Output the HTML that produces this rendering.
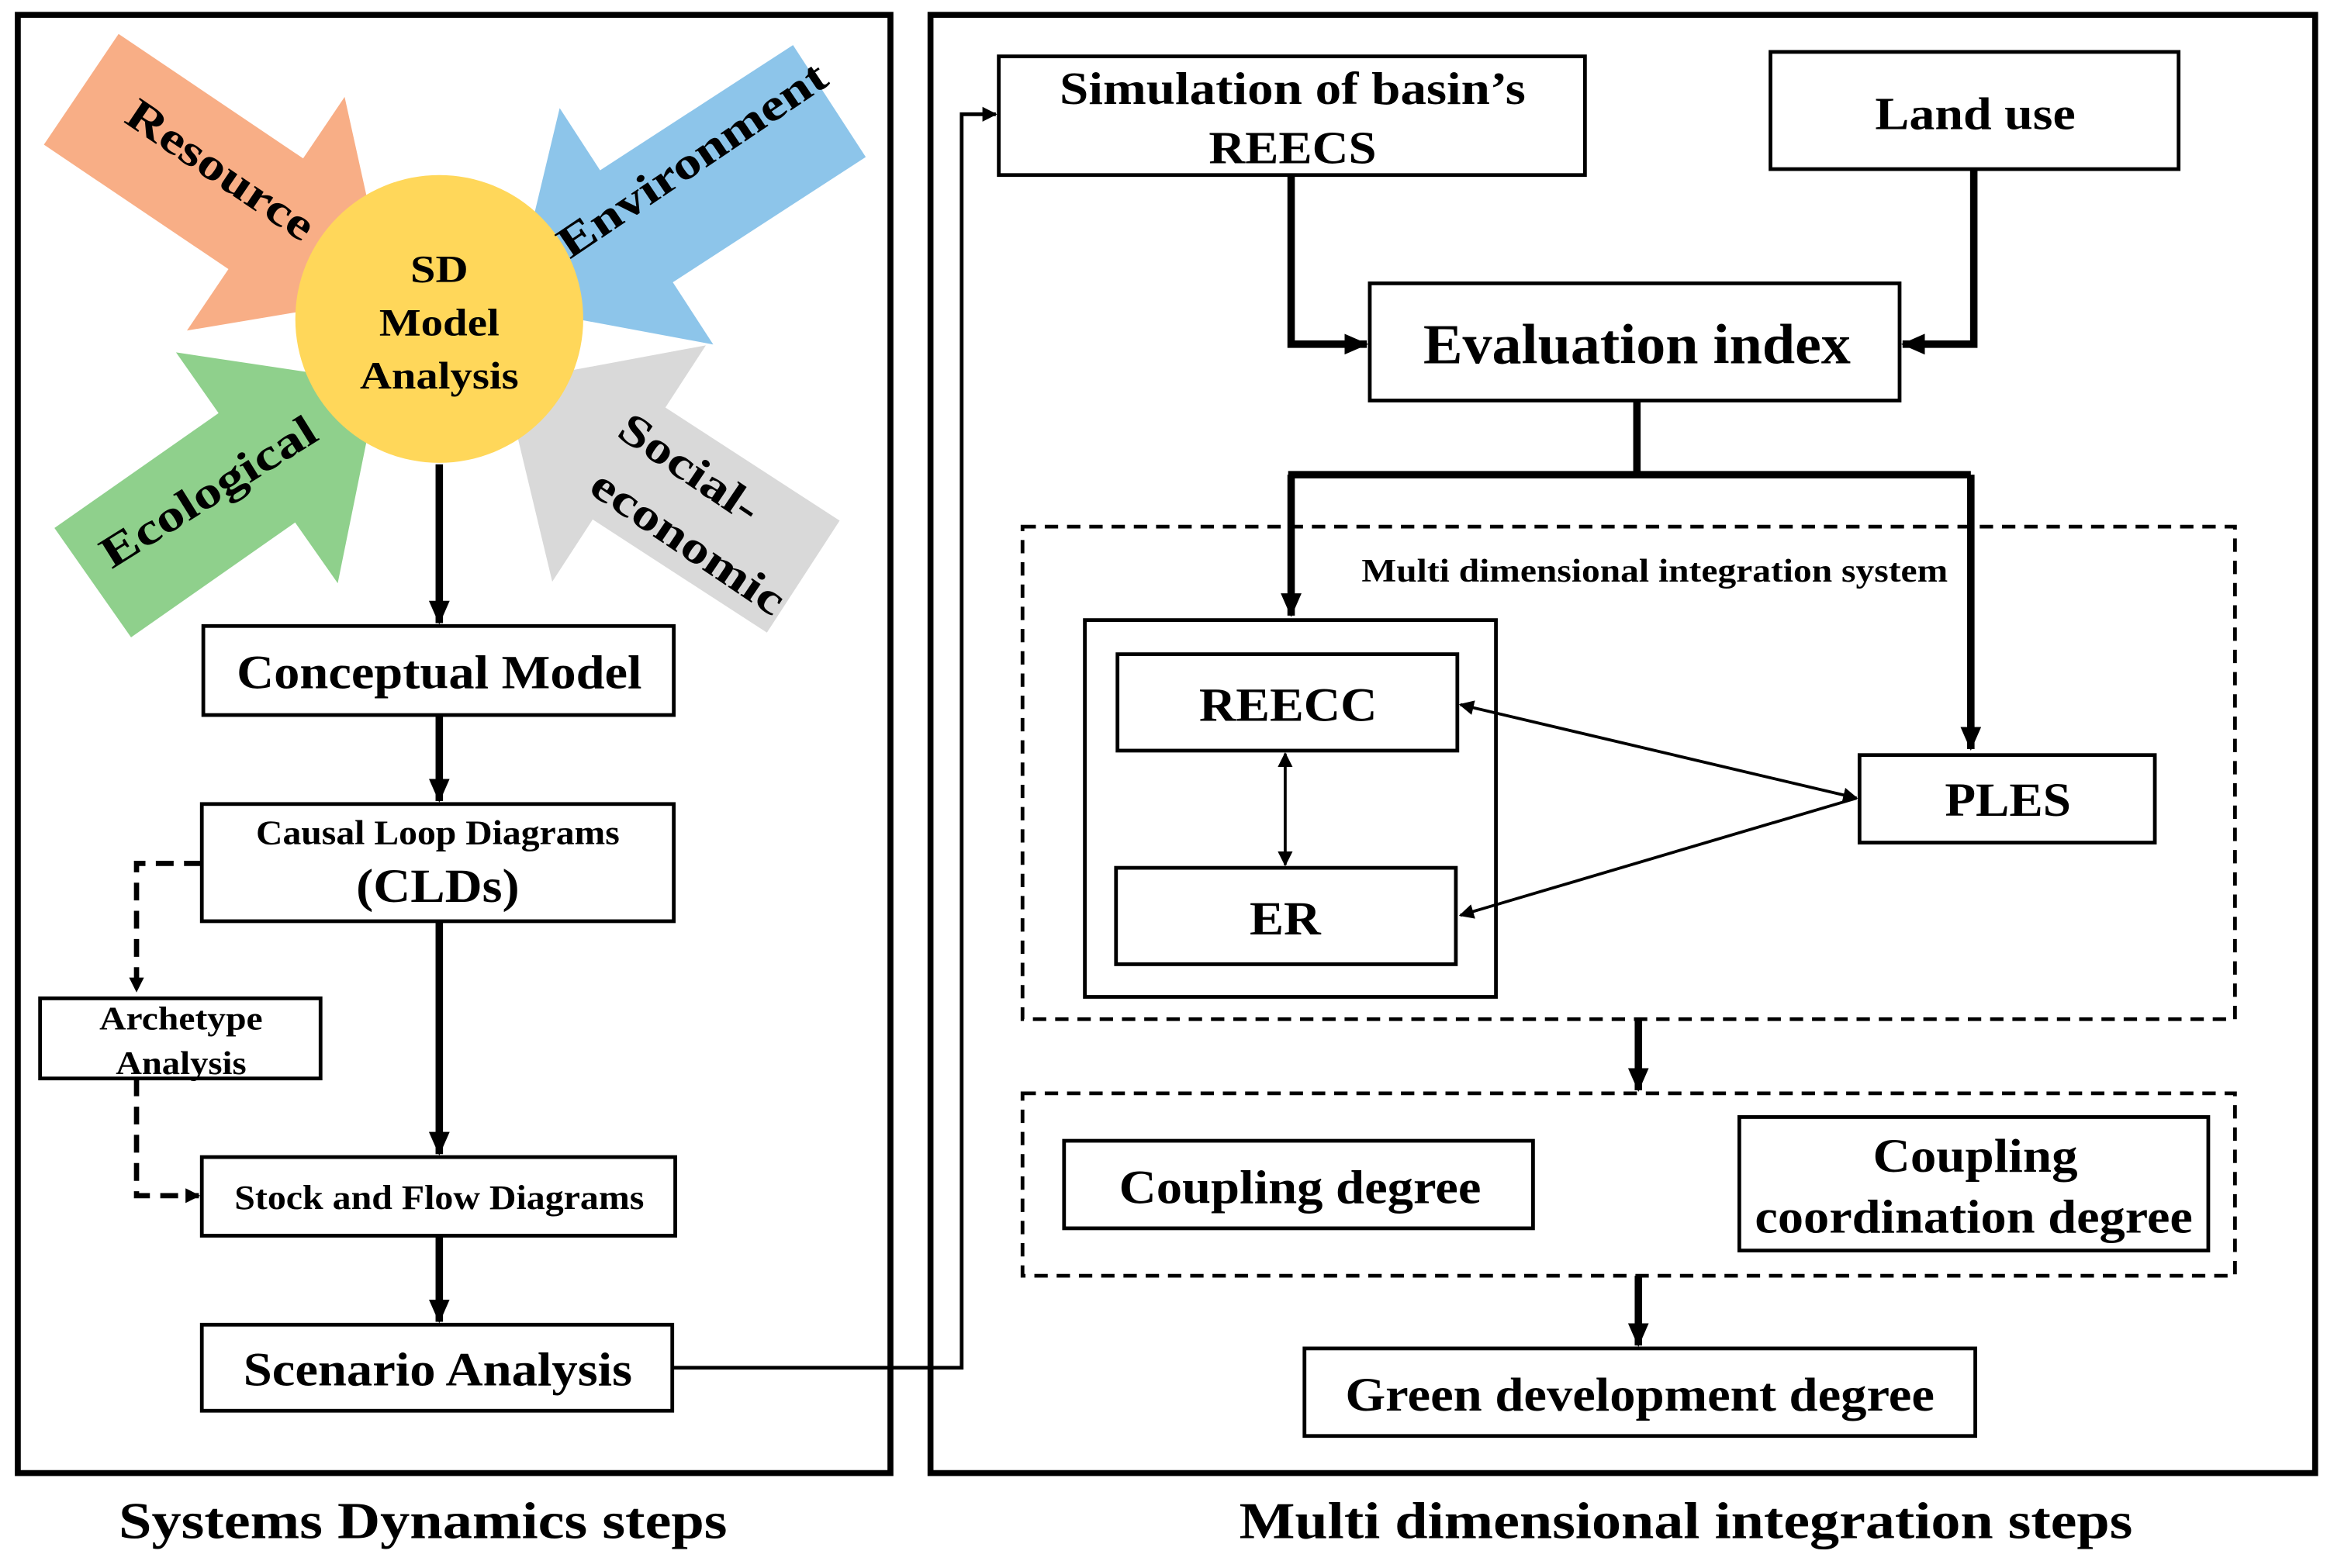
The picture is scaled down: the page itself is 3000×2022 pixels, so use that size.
<!DOCTYPE html>
<html><head><meta charset="utf-8"><style>
html,body{margin:0;padding:0;background:#fff;}
svg{display:block;}
text{font-family:"Liberation Serif",serif;font-weight:bold;fill:#000;}
</style></head><body>
<svg width="3000" height="2022" viewBox="0 0 1568 1057" preserveAspectRatio="none" xmlns="http://www.w3.org/2000/svg">
<defs>
<marker id="at" markerWidth="10" markerHeight="10" refX="9" refY="5" orient="auto-start-reverse" markerUnits="userSpaceOnUse"><path d="M0,0 L10,5 L0,10 z" fill="#000"/></marker>
<marker id="ab" markerWidth="16" markerHeight="16" refX="15" refY="8" orient="auto" markerUnits="userSpaceOnUse"><path d="M0,1 L16,8 L0,15 z" fill="#000"/></marker>
</defs>
<rect width="1568" height="1057" fill="#fff"/>
<rect x="12" y="10" width="588" height="983" fill="none" stroke="#000" stroke-width="4"/>
<rect x="627" y="10" width="933" height="983" fill="none" stroke="#000" stroke-width="4"/>
<text x="285" y="1037" font-size="35" text-anchor="middle" textLength="410" lengthAdjust="spacingAndGlyphs">Systems Dynamics steps</text>
<text x="1136" y="1037" font-size="35" text-anchor="middle" textLength="602" lengthAdjust="spacingAndGlyphs">Multi dimensional integration steps</text>

<g transform="translate(262,200) rotate(34)"><polygon points="-250,-45 -100,-45 -100,-95 0,0 -100,95 -100,45 -250,45" fill="#F8AE86"/></g>
<g transform="translate(345,207) rotate(147)"><polygon points="-255,-45 -100,-45 -100,-95 0,0 -100,95 -100,45 -255,45" fill="#8DC5EA"/></g>
<g transform="translate(255,258) rotate(-35)"><polygon points="-235,-45 -100,-45 -100,-95 0,0 -100,95 -100,45 -235,45" fill="#8FD08C"/></g>
<g transform="translate(340,258) rotate(-147)"><polygon points="-240,-45 -100,-45 -100,-95 0,0 -100,95 -100,45 -240,45" fill="#D9D9D9"/></g>
<circle cx="296" cy="215" r="97" fill="#FFD75A"/>
<text font-size="30" transform="translate(147,117) rotate(34)" text-anchor="middle" dominant-baseline="middle" textLength="146" lengthAdjust="spacingAndGlyphs">Resource</text>
<text font-size="30" transform="translate(468,110) rotate(-34)" text-anchor="middle" dominant-baseline="middle" textLength="212" lengthAdjust="spacingAndGlyphs">Environment</text>
<text font-size="30" transform="translate(142,334) rotate(-32)" text-anchor="middle" dominant-baseline="middle" textLength="166" lengthAdjust="spacingAndGlyphs">Ecological</text>
<text font-size="30" transform="translate(463,318) rotate(34)" text-anchor="middle" dominant-baseline="middle" textLength="108" lengthAdjust="spacingAndGlyphs">Social-</text>
<text font-size="30" transform="translate(462,368) rotate(34)" text-anchor="middle" dominant-baseline="middle" textLength="151" lengthAdjust="spacingAndGlyphs">economic</text>
<text x="296" y="190" font-size="26" text-anchor="middle" textLength="39" lengthAdjust="spacingAndGlyphs">SD</text>
<text x="296" y="226" font-size="26" text-anchor="middle" textLength="81" lengthAdjust="spacingAndGlyphs">Model</text>
<text x="296" y="262" font-size="26" text-anchor="middle" textLength="107" lengthAdjust="spacingAndGlyphs">Analysis</text>

<g stroke="#000" stroke-width="5" fill="none">
<line x1="296" y1="313" x2="296" y2="420" marker-end="url(#ab)"/>
<line x1="296" y1="482" x2="296" y2="540" marker-end="url(#ab)"/>
<line x1="296" y1="621" x2="296" y2="778" marker-end="url(#ab)"/>
<line x1="296" y1="833" x2="296" y2="891" marker-end="url(#ab)"/>
</g>
<g stroke="#000" stroke-width="3.5" fill="none" stroke-dasharray="12,7">
<polyline points="136,582 92,582 92,668" marker-end="url(#at)"/>
<polyline points="92,727 92,806 134,806" marker-end="url(#at)"/>
</g>
<g stroke="#000" stroke-width="2.5" fill="#fff">
<rect x="137" y="422" width="317" height="60"/>
<rect x="136" y="542" width="318" height="79"/>
<rect x="27" y="673" width="189" height="54"/>
<rect x="136" y="780" width="319" height="53"/>
<rect x="136" y="893" width="317" height="58"/>
</g>
<text x="296" y="464" font-size="32" text-anchor="middle" textLength="273" lengthAdjust="spacingAndGlyphs">Conceptual Model</text>
<text x="295" y="569" font-size="23" text-anchor="middle" textLength="245" lengthAdjust="spacingAndGlyphs">Causal Loop Diagrams</text>
<text x="295" y="608" font-size="32" text-anchor="middle" textLength="110" lengthAdjust="spacingAndGlyphs">(CLDs)</text>
<text x="122" y="694" font-size="22" text-anchor="middle" textLength="110" lengthAdjust="spacingAndGlyphs">Archetype</text>
<text x="122" y="724" font-size="22" text-anchor="middle" textLength="88" lengthAdjust="spacingAndGlyphs">Analysis</text>
<text x="296" y="815" font-size="23" text-anchor="middle" textLength="276" lengthAdjust="spacingAndGlyphs">Stock and Flow Diagrams</text>
<text x="295" y="934" font-size="32" text-anchor="middle" textLength="262" lengthAdjust="spacingAndGlyphs">Scenario Analysis</text>
<polyline points="453,922 648,922 648,77 671,77" stroke="#000" stroke-width="2.5" fill="none" marker-end="url(#at)"/>

<g stroke="#000" stroke-width="5" fill="none">
<polyline points="870,118 870,232 921,232" marker-end="url(#ab)"/>
<polyline points="1330,114 1330,232 1282,232" marker-end="url(#ab)"/>
<polyline points="1103,270 1103,320"/>
<polyline points="868,320 1328,320"/>
<line x1="870" y1="320" x2="870" y2="415" marker-end="url(#ab)"/>
<line x1="1328" y1="320" x2="1328" y2="505" marker-end="url(#ab)"/>
<line x1="1104" y1="687" x2="1104" y2="735" marker-end="url(#ab)"/>
<line x1="1104" y1="860" x2="1104" y2="907" marker-end="url(#ab)"/>
</g>
<g stroke="#000" stroke-width="2.5" fill="#fff">
<rect x="673" y="38" width="395" height="80"/>
<rect x="1193" y="35" width="275" height="79"/>
<rect x="923" y="191" width="357" height="79"/>
</g>
<rect x="689" y="355" width="817" height="332" fill="none" stroke="#000" stroke-width="2.5" stroke-dasharray="9,6"/>
<rect x="689" y="737" width="817" height="123" fill="none" stroke="#000" stroke-width="2.5" stroke-dasharray="9,6"/>
<g stroke="#000" stroke-width="2.5" fill="#fff">
<rect x="731" y="418" width="277" height="254"/>
<rect x="753" y="441" width="229" height="65"/>
<rect x="752" y="585" width="229" height="65"/>
<rect x="1253" y="509" width="199" height="59"/>
<rect x="717" y="769" width="316" height="59"/>
<rect x="1172" y="753" width="316" height="90"/>
<rect x="879" y="909" width="452" height="59"/>
</g>
<g stroke="#000" stroke-width="2" fill="none">
<line x1="866" y1="508" x2="866" y2="583" marker-start="url(#at)" marker-end="url(#at)"/>
<line x1="984" y1="475" x2="1251" y2="538" marker-start="url(#at)" marker-end="url(#at)"/>
<line x1="984" y1="617" x2="1251" y2="538" marker-start="url(#at)"/>
</g>
<text x="871" y="70" font-size="31" text-anchor="middle" textLength="314" lengthAdjust="spacingAndGlyphs">Simulation of basin’s</text>
<text x="871" y="110" font-size="31" text-anchor="middle" textLength="113" lengthAdjust="spacingAndGlyphs">REECS</text>
<text x="1331" y="87" font-size="31" text-anchor="middle" textLength="135" lengthAdjust="spacingAndGlyphs">Land use</text>
<text x="1103" y="245" font-size="38" text-anchor="middle" textLength="288" lengthAdjust="spacingAndGlyphs">Evaluation index</text>
<text x="1115" y="392" font-size="22" text-anchor="middle" textLength="395" lengthAdjust="spacingAndGlyphs">Multi dimensional integration system</text>
<text x="868" y="486" font-size="32" text-anchor="middle" textLength="120" lengthAdjust="spacingAndGlyphs">REECC</text>
<text x="866" y="630" font-size="32" text-anchor="middle" textLength="48" lengthAdjust="spacingAndGlyphs">ER</text>
<text x="1353" y="550" font-size="32" text-anchor="middle" textLength="85" lengthAdjust="spacingAndGlyphs">PLES</text>
<text x="876" y="811" font-size="32" text-anchor="middle" textLength="244" lengthAdjust="spacingAndGlyphs">Coupling degree</text>
<text x="1331" y="790" font-size="32" text-anchor="middle" textLength="138" lengthAdjust="spacingAndGlyphs">Coupling</text>
<text x="1330" y="831" font-size="32" text-anchor="middle" textLength="295" lengthAdjust="spacingAndGlyphs">coordination degree</text>
<text x="1105" y="951" font-size="32" text-anchor="middle" textLength="397" lengthAdjust="spacingAndGlyphs">Green development degree</text>
</svg>
</body></html>
